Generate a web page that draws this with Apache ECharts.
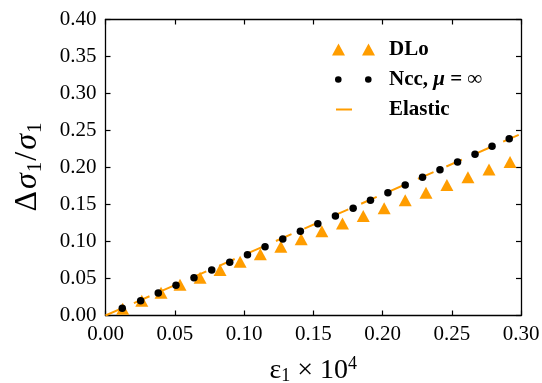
<!DOCTYPE html>
<html>
<head>
<meta charset="utf-8">
<script src="https://cdn.jsdelivr.net/npm/echarts@6/dist/echarts.min.js"></script>
<style>html,body{margin:0;padding:0;background:#fff;}#c{width:542px;height:383px;}</style>
</head>
<body>
<div id="c"></div>
<script>
// ---- data ----
const dloX = [0.0124, 0.0262, 0.0401, 0.0538, 0.0683, 0.0827, 0.0972, 0.1118, 0.1266, 0.1413, 0.1562, 0.1711, 0.1861, 0.2012, 0.2164, 0.2314, 0.2465, 0.2617, 0.2769, 0.2921];
const dloY = [0.0090, 0.0200, 0.0306, 0.0417, 0.0510, 0.0615, 0.0725, 0.0827, 0.0928, 0.1030, 0.1138, 0.1243, 0.1345, 0.1450, 0.1557, 0.1660, 0.1764, 0.1869, 0.1973, 0.2074];
const nccX = [0.0121, 0.0254, 0.0381, 0.0509, 0.0639, 0.0767, 0.0897, 0.1025, 0.1152, 0.1280, 0.1407, 0.1533, 0.1660, 0.1788, 0.1913, 0.2039, 0.2164, 0.2289, 0.2415, 0.2542, 0.2668, 0.2791, 0.2915];
const nccY = [0.0097, 0.0200, 0.0304, 0.0408, 0.0511, 0.0615, 0.0719, 0.0822, 0.0930, 0.1034, 0.1138, 0.1241, 0.1345, 0.1449, 0.1557, 0.1659, 0.1764, 0.1868, 0.1970, 0.2074, 0.2178, 0.2286, 0.2389];
const elasticX = [0, 0.30];
const elasticY = [0, 0.2455];
const xTickLabels = ['0.00', '0.05', '0.10', '0.15', '0.20', '0.25', '0.30'];
const yTickLabels = ['0.00', '0.05', '0.10', '0.15', '0.20', '0.25', '0.30', '0.35', '0.40'];
const seriesNames = ['DLo', 'Ncc', 'Elastic'];

const ORANGE = '#ff9d00';
const FONT = '"Liberation Serif", "DejaVu Serif", serif';
const zip = (a, b) => a.map((v, i) => [v, b[i]]);

const box = 'M0,0 M52,12 ';
const iconTri = 'path://' + box + 'M0,12 L6.5,0 L13,12 Z M30,12 L36.5,0 L43,12 Z';
const iconDot = 'path://' + box + 'M3,6 A3.3,3.3 0 1,1 9.6,6 A3.3,3.3 0 1,1 3,6 Z M33,6 A3.3,3.3 0 1,1 39.6,6 A3.3,3.3 0 1,1 33,6 Z';
const iconDash = 'path://' + box + 'M4,5 L20,5 L20,7 L4,7 Z';

const axisCommon = {
  type: 'value',
  axisLine: { show: true, onZero: false, lineStyle: { color: '#000', width: 1.3 } },
  axisTick: { show: true, inside: true, length: 5, lineStyle: { color: '#000', width: 1.2 } },
  splitLine: { show: false },
};

const chart = echarts.init(document.getElementById('c'), null, { renderer: 'canvas' });
chart.setOption({
  animation: false,
  backgroundColor: '#fff',
  grid: { left: 105.5, right: 21, top: 19.5, bottom: 67.5, containLabel: false, outerBoundsMode: 'none' },
  xAxis: [
    Object.assign({}, axisCommon, {
      position: 'bottom', min: 0, max: 0.3, interval: 0.05,
      axisLabel: { color: '#000', fontFamily: FONT, fontSize: 21, margin: 8,
        formatter: v => xTickLabels[Math.round(v / 0.05)] },
      name: '{m|ε}{s|1}{m| × 10}{p|4}', nameLocation: 'middle', nameGap: 40, nameMoveOverlap: false,
      nameTextStyle: { color: '#000', fontFamily: FONT, fontSize: 28,
        rich: {
          m: { fontFamily: FONT, fontSize: 28, color: '#000', lineHeight: 30 },
          s: { fontFamily: FONT, fontSize: 18, color: '#000', verticalAlign: 'bottom', lineHeight: 30 },
          p: { fontFamily: FONT, fontSize: 18, color: '#000', verticalAlign: 'top', lineHeight: 30 }
        } }
    }),
    Object.assign({}, axisCommon, {
      position: 'top', min: 0, max: 0.3, interval: 0.05, axisLabel: { show: false }
    })
  ],
  yAxis: [
    Object.assign({}, axisCommon, {
      position: 'left', min: 0, max: 0.4, interval: 0.05,
      axisLabel: { color: '#000', fontFamily: FONT, fontSize: 21, margin: 9,
        formatter: v => yTickLabels[Math.round(v / 0.05)] },
      name: '{m|Δ}{i|σ}{s|1}{m|/}{i|σ}{s|1}', nameLocation: 'middle', nameGap: 60, nameRotate: 90,
      nameMoveOverlap: false,
      nameTextStyle: { color: '#000', fontFamily: FONT, fontSize: 32,
        rich: {
          m: { fontFamily: FONT, fontSize: 32, color: '#000', lineHeight: 36, padding: [0, 1] },
          i: { fontFamily: FONT, fontSize: 32, fontStyle: 'italic', color: '#000', lineHeight: 36, padding: [0, 1] },
          s: { fontFamily: FONT, fontSize: 21, color: '#000', verticalAlign: 'bottom', lineHeight: 36 }
        } }
    }),
    Object.assign({}, axisCommon, {
      position: 'right', min: 0, max: 0.4, interval: 0.05, axisLabel: { show: false }
    })
  ],
  legend: {
    orient: 'vertical', left: 327, top: 34,
    itemWidth: 52, itemHeight: 12, itemGap: 9,
    textStyle: { color: '#000', fontFamily: FONT, fontSize: 21, fontWeight: 'bold', lineHeight: 21,
      rich: {
        b: { fontFamily: FONT, fontSize: 21, fontWeight: 'bold', color: '#000' },
        i: { fontFamily: FONT, fontSize: 21, fontStyle: 'italic', color: '#000' },
        n: { fontFamily: FONT, fontSize: 21, color: '#000' }
      } },
    formatter: name => name === 'Ncc' ? '{b|Ncc, }{i|μ}{n| = ∞}' : '{b|' + name + '}',
    data: [
      { name: seriesNames[0], icon: iconTri, itemStyle: { color: ORANGE } },
      { name: seriesNames[1], icon: iconDot, itemStyle: { color: '#000' } },
      { name: seriesNames[2], icon: iconDash, itemStyle: { color: ORANGE } }
    ]
  },
  series: [
    { name: seriesNames[0], type: 'scatter', data: zip(dloX, dloY), symbol: 'triangle',
      symbolSize: [13, 12], itemStyle: { color: ORANGE, opacity: 1 }, z: 2 },
    { name: seriesNames[2], type: 'line', data: zip(elasticX, elasticY), showSymbol: false, symbol: 'none',
      lineStyle: { color: ORANGE, width: 2, type: [17, 14] }, itemStyle: { color: ORANGE }, z: 3 },
    { name: seriesNames[1], type: 'scatter', data: zip(nccX, nccY), symbol: 'circle',
      symbolSize: 7.5, itemStyle: { color: '#000', opacity: 1 }, z: 4 }
  ]
});
</script>
</body>
</html>
